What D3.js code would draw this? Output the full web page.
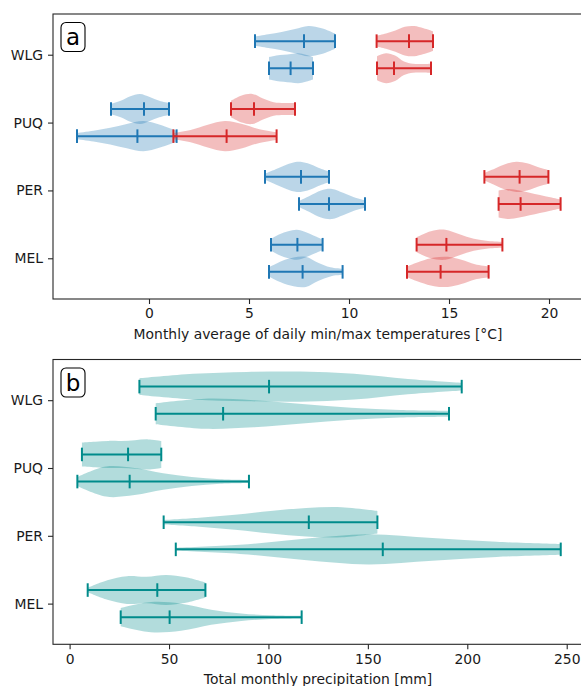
<!DOCTYPE html>
<html>
<head>
<meta charset="utf-8">
<script src="https://cdn.jsdelivr.net/npm/d3@7"></script>
<style>
  body { margin: 0; background: #fff; }
  svg text { font-family: "DejaVu Sans", sans-serif; }
</style>
</head>
<body>
<svg id="chart"></svg>
<script>
// cities, top to bottom
let cities = ["WLG", "PUQ", "PER", "MEL"];

// [min, middle tick, max] per city
let tMinUpper = [[5.3, 7.75, 9.3], [-1.9, -0.25, 1.0], [5.8, 7.6, 9.0], [6.1, 7.42, 8.68]];
let tMinLower = [[6.0, 7.08, 8.2], [-3.6, -0.58, 1.38], [7.5, 9.0, 10.8], [6.0, 7.68, 9.68]];
let tMaxUpper = [[11.38, 13.0, 14.2], [4.1, 5.25, 7.3], [16.77, 18.53, 19.97], [13.38, 14.87, 17.67]];
let tMaxLower = [[11.4, 12.25, 14.1], [1.22, 3.88, 6.38], [17.48, 18.58, 20.58], [12.9, 14.58, 16.98]];
let rainUpper = [[35.1, 100.3, 197.2], [6.2, 29.4, 46.1], [47.3, 120.3, 154.8], [9.1, 44.1, 68.3]];
let rainLower = [[43.3, 77.2, 190.8], [3.9, 30.2, 90.2], [53.4, 157.5, 247.0], [25.7, 50.3, 116.7]];

// relative violin width at evenly spaced points from min to max
let tMinUpperShape = [[0.3, 0.45, 0.6, 0.8, 1.0, 0.85, 0.5], [0.35, 0.55, 0.85, 1.0, 0.8, 0.55, 0.4],
                      [0.2, 0.5, 0.8, 1.0, 0.9, 0.6, 0.35], [0.4, 0.7, 0.9, 1.0, 0.85, 0.6, 0.35]];
let tMinLowerShape = [[0.75, 0.85, 0.9, 0.95, 1.0, 0.9, 0.75], [0.2, 0.35, 0.55, 0.8, 1.0, 0.75, 0.35],
                      [0.2, 0.55, 0.9, 1.0, 0.75, 0.45, 0.25], [0.3, 0.7, 0.95, 1.0, 0.6, 0.3, 0.2]];
let tMaxUpperShape = [[0.35, 0.5, 0.7, 0.95, 1.0, 0.85, 0.65], [0.55, 0.9, 1.0, 0.7, 0.45, 0.4, 0.4],
                      [0.25, 0.55, 0.85, 1.0, 0.9, 0.65, 0.45], [0.5, 0.9, 1.0, 0.7, 0.4, 0.25, 0.2]];
let tMaxLowerShape = [[0.8, 1.0, 0.85, 0.45, 0.3, 0.28, 0.3], [0.2, 0.4, 0.75, 1.0, 0.8, 0.45, 0.25],
                      [0.9, 1.0, 0.9, 0.75, 0.6, 0.45, 0.3], [0.35, 0.7, 0.95, 1.0, 0.8, 0.5, 0.35]];
let rainUpperShape = [[0.55, 0.85, 0.97, 1.0, 0.85, 0.5, 0.25], [0.8, 0.85, 0.9, 0.9, 0.95, 1.0, 0.9],
                      [0.15, 0.3, 0.5, 0.75, 0.95, 1.0, 0.75], [0.15, 0.65, 0.92, 0.88, 1.0, 0.85, 0.5]];
let rainLowerShape = [[0.7, 1.0, 0.9, 0.65, 0.4, 0.25, 0.2], [0.3, 1.0, 0.9, 0.55, 0.3, 0.15, 0.1],
                      [0.1, 0.3, 0.7, 1.0, 0.75, 0.5, 0.35], [0.6, 1.0, 0.9, 0.5, 0.25, 0.12, 0.08]];

let tempTicks = [0, 5, 10, 15, 20],
    rainTicks = [0, 50, 100, 150, 200, 250];

let W = 581, H = 686;
let blue = "#1f77b4", red = "#d62728", teal = "#008b8b";

let svg = d3.select("#chart").attr("width", W).attr("height", H);

function drawPanel(top, bottom, x, ticks, label, letter, sets) {
  let y = d3.scaleLinear().domain([0.4, 4.6]).range([top, bottom]);
  let g = svg.append("g");

  sets.forEach(function(s) {
    s.stats.forEach(function(st, i) {
      let pos = i + 1 + s.offset;
      let n = s.shape[i].length;
      let pts = s.shape[i].map(function(w, j) {
        return {v: st[0] + (st[2] - st[0]) * j / (n - 1), w: w};
      });
      let area = d3.area()
        .curve(d3.curveCatmullRom)
        .x(function(d) { return x(d.v); })
        .y0(function(d) { return y(pos - 0.222 * d.w); })
        .y1(function(d) { return y(pos + 0.222 * d.w); });
      g.append("path").datum(pts)
        .attr("d", area)
        .attr("fill", s.color)
        .attr("fill-opacity", 0.3);

      g.append("line")
        .attr("x1", x(st[0])).attr("x2", x(st[2]))
        .attr("y1", y(pos)).attr("y2", y(pos))
        .attr("stroke", s.color).attr("stroke-width", 2);
      st.forEach(function(v) {
        g.append("line")
          .attr("x1", x(v)).attr("x2", x(v))
          .attr("y1", y(pos - 0.1)).attr("y2", y(pos + 0.1))
          .attr("stroke", s.color).attr("stroke-width", 2);
      });
    });
  });

  // frame
  let x0 = x.range()[0], x1 = x.range()[1];
  svg.append("rect")
    .attr("x", x0).attr("y", top)
    .attr("width", x1 - x0).attr("height", bottom - top)
    .attr("fill", "none").attr("stroke", "#262626").attr("stroke-width", 1.1);

  // Add axes
  let xAxis = d3.axisBottom(x).tickValues(ticks).tickSize(5).tickPadding(4.5).tickFormat(d3.format("d")),
      yAxis = d3.axisLeft(y).tickValues([1, 2, 3, 4]).tickSize(5).tickPadding(5)
        .tickFormat(function(d) { return cities[d - 1]; });

  let xa = svg.append("g").attr("transform", "translate(0," + bottom + ")").call(xAxis);
  let ya = svg.append("g").attr("transform", "translate(" + x0 + ",0)").call(yAxis);
  [xa, ya].forEach(function(a) {
    a.select(".domain").remove();
    a.selectAll("line").attr("stroke", "#262626").attr("stroke-width", 1.1);
    a.selectAll("text").attr("fill", "#1a1a1a").style("font-size", "13.9px")
      .style("font-family", "DejaVu Sans");
  });

  svg.append("text")
    .attr("x", (53 + 581) / 2 + 1)
    .attr("y", bottom + 40)
    .style("text-anchor", "middle")
    .style("font-size", "13.9px")
    .attr("fill", "#1a1a1a")
    .text(label);

  // panel letter in a rounded box
  svg.append("rect")
    .attr("x", 61).attr("y", top + 8.5)
    .attr("width", 24).attr("height", 29).attr("rx", 5)
    .attr("fill", "#fff").attr("stroke", "#000").attr("stroke-width", 1.1);
  svg.append("text")
    .attr("x", 73).attr("y", top + 31)
    .style("text-anchor", "middle")
    .style("font-size", "23px")
    .text(letter);
}

let xTemp = d3.scaleLinear().domain([-4.8, 21.8]).range([53, 585]);
let xRain = d3.scaleLinear().domain([-8.35, 259.2]).range([53, 585]);

drawPanel(14, 299, xTemp, tempTicks, "Monthly average of daily min/max temperatures [°C]", "a", [
  {stats: tMinUpper, shape: tMinUpperShape, offset: -0.2, color: blue},
  {stats: tMinLower, shape: tMinLowerShape, offset: 0.2, color: blue},
  {stats: tMaxUpper, shape: tMaxUpperShape, offset: -0.2, color: red},
  {stats: tMaxLower, shape: tMaxLowerShape, offset: 0.2, color: red}
]);

drawPanel(359.5, 644.3, xRain, rainTicks, "Total monthly precipitation [mm]", "b", [
  {stats: rainUpper, shape: rainUpperShape, offset: -0.2, color: teal},
  {stats: rainLower, shape: rainLowerShape, offset: 0.2, color: teal}
]);
</script>
</body>
</html>
